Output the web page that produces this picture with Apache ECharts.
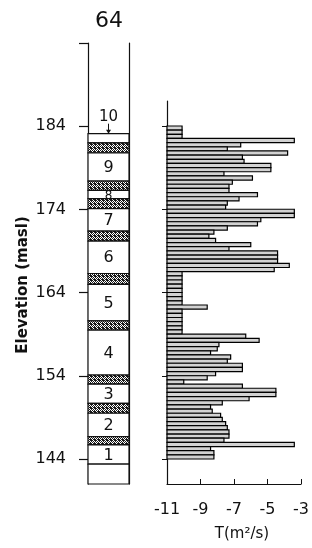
<!DOCTYPE html>
<html>
<head>
<meta charset="utf-8">
<script src="https://cdn.jsdelivr.net/npm/echarts@6/dist/echarts.min.js"></script>
<style>
  html, body { margin: 0; padding: 0; background: #fff; }
  #chart { width: 312px; height: 548px; }
</style>
</head>
<body>
<div id="chart"></div>
<script>
// borehole 64 - lithology column + transmissivity log

const boreholeName = '64'

// elevation ticks (masl)
const elevTicks = [144, 154, 164, 174, 184]
const elevTickMarks = [144, 154, 164, 174, 184, 194]

// lithology column, top to bottom
const layerTop = [183.1, 182.0, 180.8, 177.4, 176.3, 175.3, 174.1, 171.4, 170.2, 166.3, 165.0, 160.6, 159.5, 154.1, 153.0, 150.7, 149.5, 146.7, 145.7, 143.4]
const layerBottom = [182.0, 180.8, 177.4, 176.3, 175.3, 174.1, 171.4, 170.2, 166.3, 165.0, 160.6, 159.5, 154.1, 153.0, 150.7, 149.5, 146.7, 145.7, 143.4, 141.0]
const layerStippled = [0, 1, 0, 1, 0, 1, 0, 1, 0, 1, 0, 1, 0, 1, 0, 1, 0, 1, 0, 0]
const layerLabel = ['10', '', '9', '', '8', '', '7', '', '6', '', '5', '', '4', '', '3', '', '2', '', '1', '']

// log10 transmissivity, 0.5 m test sections from 184 masl downwards
const sectionTop = 184
const sectionLength = 0.5
const logT = [
  -10.1, -10.1, -10.1, -3.4, -6.6, -7.4, -3.8, -6.5, -6.4, -4.8,
  -4.8, -7.6, -5.9, -7.1, -7.3, -7.3, -5.6, -6.7, -7.4, -7.5,
  -3.4, -3.4, -5.4, -5.6, -7.4, -8.2, -8.5, -8.1, -6.0, -7.3,
  -4.4, -4.4, -4.4, -3.7, -4.6, -10.1, -10.1, -10.1, -10.1, -10.1,
  -10.1, -10.1, -10.1, -8.6, -10.1, -10.1, -10.1, -10.1, -10.1, -10.1,
  -6.3, -5.5, -7.9, -8.0, -8.4, -7.2, -7.4, -6.5, -6.5, -8.1,
  -8.6, -10.0, -6.5, -4.5, -4.5, -6.1, -7.7, -8.4, -8.3, -7.8,
  -7.7, -7.5, -7.4, -7.3, -7.3, -7.6, -3.4, -8.4, -8.2, -8.2
]
const tTicks = [-11, -9, -7, -5, -3]

const font = 'DejaVu Sans'
const ink = '#111'

function makeStipple() {
  const c = document.createElement('canvas')
  c.width = 4
  c.height = 4
  const ctx = c.getContext('2d')
  ctx.fillStyle = '#fff'
  ctx.fillRect(0, 0, 4, 4)
  ctx.fillStyle = '#1a1a1a'
  const dots = [[0, 0], [2, 0], [3, 0], [1, 1], [3, 1], [0, 2], [2, 2], [1, 3], [2, 3], [3, 3]]
  dots.forEach(d => ctx.fillRect(d[0], d[1], 1, 1))
  return c
}
const stipple = makeStipple()

const chart = echarts.init(document.getElementById('chart'), null, { renderer: 'canvas' })

const layerData = layerTop.map((t, i) => [0, t, 1, layerBottom[i]])
const barData = logT.map((v, i) => [v, sectionTop - i * sectionLength, sectionTop - (i + 1) * sectionLength])

function renderLayer(params, api) {
  const i = params.dataIndex
  const p0 = api.coord([api.value(0), api.value(1)])
  const p1 = api.coord([api.value(2), api.value(3)])
  const children = [{
    type: 'rect',
    shape: { x: p0[0], y: p0[1], width: p1[0] - p0[0], height: p1[1] - p0[1] },
    style: {
      fill: layerStippled[i] ? { image: stipple, repeat: 'repeat' } : '#fff',
      stroke: ink,
      lineWidth: 1.2
    }
  }]
  const label = layerLabel[i]
  const cx = (p0[0] + p1[0]) / 2
  if (label === '10') {
    // callout above the column
    children.push({
      type: 'text',
      style: { x: cx, y: p0[1] - 17, text: label, fill: ink, font: '15px ' + font, align: 'center', verticalAlign: 'middle' }
    }, {
      type: 'line',
      shape: { x1: cx, y1: p0[1] - 10, x2: cx, y2: p0[1] - 1 },
      style: { stroke: ink, lineWidth: 1 }
    }, {
      type: 'polygon',
      shape: { points: [[cx - 2.5, p0[1] - 4], [cx + 2.5, p0[1] - 4], [cx, p0[1]]] },
      style: { fill: ink }
    })
  } else if (label) {
    children.push({
      type: 'text',
      style: {
        x: cx, y: (p0[1] + p1[1]) / 2 + 1, text: label, fill: ink,
        font: (label === '8' ? '12px ' : '16px ') + font,
        align: 'center', verticalAlign: 'middle'
      }
    })
  }
  return { type: 'group', children: children }
}

function renderBar(params, api) {
  const p0 = api.coord([tTicks[0], api.value(1)])
  const p1 = api.coord([api.value(0), api.value(2)])
  return {
    type: 'rect',
    shape: { x: p0[0], y: p0[1], width: p1[0] - p0[0], height: p1[1] - p0[1] },
    style: { fill: '#d2d2d2', stroke: '#000', lineWidth: 1.2 }
  }
}

const option = {
  animation: false,
  backgroundColor: '#fff',
  title: {
    text: boreholeName,
    left: 90,
    top: 5,
    textStyle: { fontFamily: font, fontSize: 22, fontWeight: 'normal', color: ink }
  },
  grid: [
    { left: 88, top: 43, width: 41, bottom: 64 },
    { left: 167, right: 5, top: 101, bottom: 64 }
  ],
  xAxis: [
    { gridIndex: 0, type: 'value', min: 0, max: 1, show: false },
    {
      gridIndex: 1, type: 'value', min: -11, max: -3,
      name: 'T(m²/s)',
      nameLocation: 'middle',
      nameGap: 43,
      nameTextStyle: { fontFamily: font, fontSize: 15, color: ink, padding: [0, 0, 0, 16] },
      axisLine: { lineStyle: { color: ink, width: 1.2 } },
      axisTick: { inside: true, length: 5, customValues: tTicks, lineStyle: { color: ink } },
      axisLabel: { customValues: tTicks, fontFamily: font, fontSize: 16, color: ink, margin: 18 },
      splitLine: { show: false }
    }
  ],
  yAxis: [
    {
      gridIndex: 0, type: 'value', min: 141, max: 194,
      axisLine: { show: true, lineStyle: { color: ink, width: 1.2 } },
      axisTick: { show: true, length: 9, customValues: elevTickMarks, lineStyle: { color: ink, width: 1.2 } },
      axisLabel: { customValues: elevTicks, fontFamily: font, fontSize: 16, color: ink, margin: 22 },
      splitLine: { show: false }
    },
    {
      gridIndex: 0, type: 'value', min: 141, max: 194, position: 'right',
      axisLine: { show: true, lineStyle: { color: ink, width: 1.2 } },
      axisTick: { show: false },
      axisLabel: { show: false },
      splitLine: { show: false }
    },
    {
      gridIndex: 1, type: 'value', min: 141, max: 187,
      axisLine: { show: true, lineStyle: { color: ink, width: 1.2 } },
      axisTick: { show: true, length: 5, customValues: elevTicks, lineStyle: { color: ink } },
      axisLabel: { show: false },
      splitLine: { show: false }
    }
  ],
  graphic: [{
    type: 'text',
    x: 23,
    y: 285,
    rotation: Math.PI / 2,
    style: {
      text: 'Elevation (masl)',
      font: 'bold 15px ' + font,
      fill: ink,
      align: 'center',
      verticalAlign: 'middle'
    }
  }],
  series: [
    {
      type: 'custom',
      xAxisIndex: 0,
      yAxisIndex: 0,
      renderItem: renderLayer,
      encode: { x: [0, 2], y: [1, 3] },
      data: layerData
    },
    {
      type: 'custom',
      xAxisIndex: 1,
      yAxisIndex: 2,
      renderItem: renderBar,
      encode: { x: 0, y: [1, 2] },
      data: barData
    }
  ]
}

chart.setOption(option)
window.addEventListener('resize', () => chart.resize())
</script>
</body>
</html>
